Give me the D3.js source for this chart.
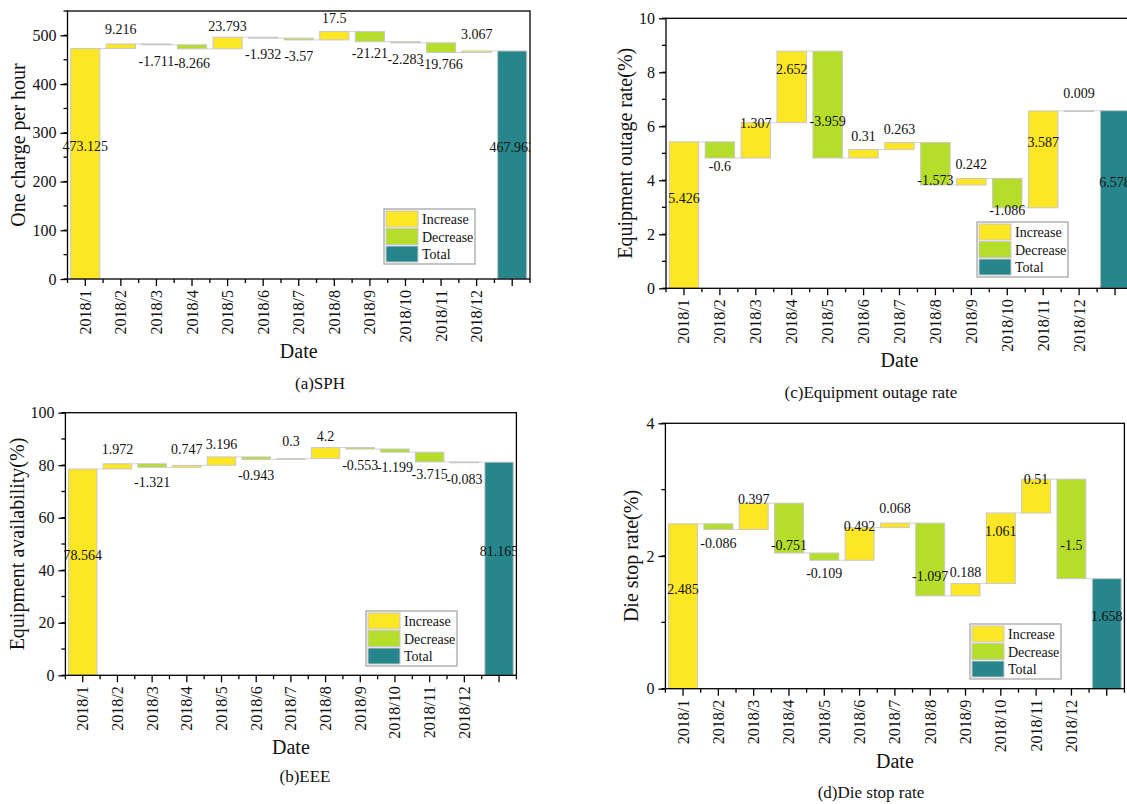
<!DOCTYPE html>
<html>
<head>
<meta charset="utf-8">
<script src="https://cdn.jsdelivr.net/npm/d3@7"></script>
<style>
  html, body { margin: 0; padding: 0; background: #fff; }
  svg { display: block; }
  svg text { font-family: "Liberation Serif", serif; }
</style>
</head>
<body>
<svg id="chart" width="1127" height="804"></svg>
<script>
// ---------------- data ----------------
const months = ["2018/1","2018/2","2018/3","2018/4","2018/5","2018/6","2018/7","2018/8","2018/9","2018/10","2018/11","2018/12"];

const sphSteps = [473.125, 9.216, -1.711, -8.266, 23.793, -1.932, -3.57, 17.5, -21.21, -2.283, -19.766, 3.067];
const sphTotal = 467.963;
const sphTicks = [0, 100, 200, 300, 400, 500];

const eeeSteps = [78.564, 1.972, -1.321, 0.747, 3.196, -0.943, 0.3, 4.2, -0.553, -1.199, -3.715, -0.083];
const eeeTotal = 81.165;
const eeeTicks = [0, 20, 40, 60, 80, 100];

const outageSteps = [5.426, -0.6, 1.307, 2.652, -3.959, 0.31, 0.263, -1.573, 0.242, -1.086, 3.587, 0.009];
const outageTotal = 6.578;
const outageTicks = [0, 2, 4, 6, 8, 10];

const dieSteps = [2.485, -0.086, 0.397, -0.751, -0.109, 0.492, 0.068, -1.097, 0.188, 1.061, 0.51, -1.5];
const dieTotal = 1.658;
const dieTicks = [0, 2, 4];

const legendItems = ["Increase", "Decrease", "Total"];
const colors = { Increase: "#fde725", Decrease: "#b5de2b", Total: "#26868c" };

const FONT = "'Liberation Serif', serif";

// ---------------- drawing ----------------
const svg = d3.select("#chart");
let clipId = 0;

function drawPanel(cfg) {
  const W = cfg.width, H = cfg.height;
  const g = svg.append("g").attr("transform", `translate(${cfg.left},${cfg.top})`);
  const cats = months.concat(["__total"]);

  const x = d3.scaleBand().domain(cats).range([0, W]).paddingInner(0.18).paddingOuter(0.09);
  const y = d3.scaleLinear().domain(cfg.domain).range([H, 0]);

  // build waterfall rows
  let run = 0;
  const rows = cfg.steps.map((v, i) => {
    const start = run; run += v;
    return { cat: months[i], y0: Math.min(start, run), y1: Math.max(start, run), end: run,
             type: v >= 0 ? "Increase" : "Decrease", label: String(v), pos: v >= 0 };
  });
  rows.push({ cat: "__total", y0: 0, y1: cfg.total, end: cfg.total, type: "Total", label: String(cfg.total), pos: true });

  // connectors
  g.append("g").selectAll("line").data(rows.slice(0, -1)).join("line")
    .attr("x1", (d) => x(d.cat) + x.bandwidth())
    .attr("x2", (d, i) => x(rows[i + 1].cat))
    .attr("y1", (d) => y(d.end)).attr("y2", (d) => y(d.end))
    .attr("stroke", "#d4d4d4").attr("stroke-width", 1);

  // bars
  g.append("g").selectAll("rect").data(rows).join("rect")
    .attr("x", (d) => x(d.cat))
    .attr("width", x.bandwidth())
    .attr("y", (d) => y(d.y1))
    .attr("height", (d) => Math.max(0.8, y(d.y0) - y(d.y1)))
    .attr("fill", (d) => colors[d.type])
    .attr("stroke", "#c8c8c8").attr("stroke-width", 1);

  // labels (clipped on top/right like the original)
  const cid = "clip" + (clipId++);
  g.append("clipPath").attr("id", cid).append("rect")
    .attr("x", -30).attr("y", 0).attr("width", W + 30).attr("height", H);
  g.append("g").attr("clip-path", `url(#${cid})`).selectAll("text").data(rows).join("text")
    .attr("x", (d) => x(d.cat) + x.bandwidth() / 2)
    .attr("y", (d) => (y(d.y0) + y(d.y1)) / 2 + (d.pos ? -17 : 17))
    .attr("text-anchor", "middle").attr("dominant-baseline", "central")
    .attr("font-size", 14).attr("fill", "#111")
    .text((d) => d.label);

  // frame
  g.append("rect").attr("x", 0).attr("y", 0).attr("width", W).attr("height", H)
    .attr("fill", "none").attr("stroke", "#000").attr("stroke-width", 1.3);

  // y axis
  const [ymin, ymax] = cfg.domain;
  const minorY = d3.range(ymin, ymax + 1e-9, cfg.minorStep);
  g.append("g").selectAll("line").data(minorY).join("line")
    .attr("x1", -4).attr("x2", 0).attr("y1", (d) => y(d)).attr("y2", (d) => y(d))
    .attr("stroke", "#000").attr("stroke-width", 1.3);
  const yAxis = d3.axisLeft(y).tickValues(cfg.ticks).tickSize(7).tickPadding(4).tickFormat(d3.format("d"));
  const ya = g.append("g").call(yAxis).attr("font-family", FONT);
  ya.select(".domain").remove();
  ya.selectAll("line").attr("stroke", "#000").attr("stroke-width", 1.3);
  ya.selectAll("text").attr("font-size", 16).attr("fill", "#111");

  // x axis: major ticks at band centres, minor at band boundaries
  const step = x.step();
  const boundaries = d3.range(cats.length + 1).map((i) => i * step);
  g.append("g").selectAll("line").data(boundaries).join("line")
    .attr("x1", (d) => d).attr("x2", (d) => d).attr("y1", H).attr("y2", H + 4)
    .attr("stroke", "#000").attr("stroke-width", 1.3);
  const xAxis = d3.axisBottom(x).tickSize(7).tickPadding(0).tickFormat((d) => (d === "__total" ? "" : d));
  const xa = g.append("g").attr("transform", `translate(0,${H})`).call(xAxis).attr("font-family", FONT);
  xa.select(".domain").remove();
  xa.selectAll("line").attr("stroke", "#000").attr("stroke-width", 1.3);
  xa.selectAll("text")
    .attr("font-size", 16).attr("fill", "#111")
    .attr("text-anchor", "end").attr("dominant-baseline", "central")
    .attr("transform", "translate(0,11) rotate(-90)")
    .attr("x", 0).attr("y", 0).attr("dy", null);

  // axis titles
  g.append("text").attr("transform", `translate(${cfg.yTitleX},${H / 2}) rotate(-90)`)
    .attr("text-anchor", "middle").attr("dominant-baseline", "central")
    .attr("font-size", 20).attr("fill", "#111").text(cfg.yTitle);
  g.append("text").attr("x", W / 2).attr("y", H + 72)
    .attr("text-anchor", "middle").attr("dominant-baseline", "central")
    .attr("font-size", 20).attr("fill", "#111").text("Date");

  // caption
  svg.append("text").attr("x", cfg.captionX).attr("y", cfg.captionY)
    .attr("text-anchor", "middle").attr("dominant-baseline", "central")
    .attr("font-size", 17).attr("fill", "#111").text(cfg.caption);

  // legend
  const lg = g.append("g").attr("transform", `translate(${cfg.legendX - cfg.left},${cfg.legendY - cfg.top})`);
  lg.append("rect").attr("x", 0).attr("y", 0).attr("width", 91).attr("height", 55)
    .attr("fill", "#fff").attr("stroke", "#a0a0a0").attr("stroke-width", 1.2);
  const li = lg.selectAll("g").data(legendItems).join("g")
    .attr("transform", (d, i) => `translate(2,${2 + i * 17.5})`);
  li.append("rect").attr("width", 32).attr("height", 16)
    .attr("fill", (d) => colors[d]).attr("stroke", "#c8c8c8").attr("stroke-width", 1);
  li.append("text").attr("x", 36).attr("y", 8.5).attr("dominant-baseline", "central")
    .attr("font-size", 14).attr("fill", "#111").text((d) => d);
}

drawPanel({ left: 67.5, top: 11, width: 462.5, height: 268, domain: [0, 550], minorStep: 50,
  steps: sphSteps, total: sphTotal, ticks: sphTicks, yTitle: "One charge per hour", yTitleX: -50,
  caption: "(a)SPH", captionX: 320, captionY: 383, legendX: 384, legendY: 209 });

drawPanel({ left: 65.4, top: 412.7, width: 451, height: 262.6, domain: [0, 100], minorStep: 10,
  steps: eeeSteps, total: eeeTotal, ticks: eeeTicks, yTitle: "Equipment availability(%)", yTitleX: -48,
  caption: "(b)EEE", captionX: 305, captionY: 776, legendX: 366, legendY: 611 });

drawPanel({ left: 666, top: 18.3, width: 467, height: 270, domain: [0, 10], minorStep: 1,
  steps: outageSteps, total: outageTotal, ticks: outageTicks, yTitle: "Equipment outage rate(%)", yTitleX: -41,
  caption: "(c)Equipment outage rate", captionX: 871, captionY: 392, legendX: 977, legendY: 222 });

drawPanel({ left: 665.4, top: 423.3, width: 459, height: 265.4, domain: [0, 4], minorStep: 1,
  steps: dieSteps, total: dieTotal, ticks: dieTicks, yTitle: "Die stop rate(%)", yTitleX: -34,
  caption: "(d)Die stop rate", captionX: 871, captionY: 792, legendX: 970, legendY: 624 });

svg.selectAll("text").attr("font-family", FONT);
</script>
</body>
</html>
